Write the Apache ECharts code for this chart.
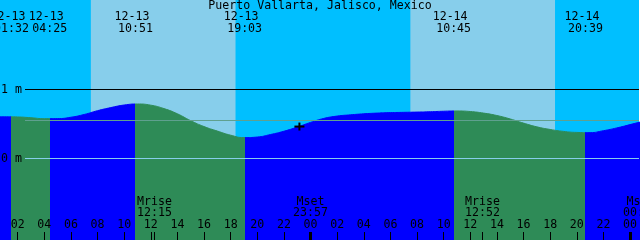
<!DOCTYPE html>
<html><head><meta charset="utf-8">
<script src="https://cdn.jsdelivr.net/npm/echarts@6/dist/echarts.min.js"></script>
<style>html,body{margin:0;padding:0;background:#fff}#c{width:640px;height:240px}</style>
</head><body><div id="c"></div>
<script>
// ---------- data ----------
const stationName = 'Puerto Vallarta, Jalisco, Mexico';
const viewStartHour = 0.675;   // hours since 12-13 00:00
const viewEndHour = 48.675;
const hourTicks = [2,4,6,8,10,12,14,16,18,20,22,24,26,28,30,32,34,36,38,40,42,44,46,48];
const midnightTicks = [24, 48];

// tide height (m) read hourly, hour since 12-13 00:00
const tideHours = [0,1,2,3,4,5,6,7,8,9,10,11,12,13,14,15,16,17,18,19,20,21,22,23,24,
  25,26,27,28,29,30,31,32,33,34,35,36,37,38,39,40,41,42,43,44,45,46,47,48,49];
const tideHeights = [0.598,0.601,0.599,0.588,0.574,0.575,0.595,0.635,0.690,0.735,0.772,0.787,0.770,0.720,0.645,
  0.545,0.460,0.395,0.335,0.300,0.308,0.345,0.392,0.452,0.520,
  0.578,0.612,0.630,0.645,0.655,0.662,0.666,0.670,0.675,0.682,0.686,0.678,0.655,0.620,0.570,
  0.510,0.456,0.418,0.390,0.375,0.372,0.400,0.440,0.488,0.538];

const tideDates = ['12-13','12-13','12-13','12-13','12-14','12-14'];
const tideTimes = ['01:32','04:25','10:51','19:03','10:45','20:39'];
const tideTypes = ['High','Low','High','Low','High','Low'];

const sunDates = ['12-13','12-14'];
const sunriseTimes = ['07:30','07:30'];
const sunsetTimes = ['18:22','18:22'];

const moonLabels = ['Mrise','Mset','Mrise','Mset'];
const moonDates = ['12-13','12-13','12-14','12-15'];
const moonTimes = ['12:15','23:57','12:52','00:45'];

const levelValues = [1, 0];
const levelLabels = ['1 m', '0 m'];
const meanLevel = 0.55;

const nowDate = '12-13', nowTime = '23:10', nowHeight = 0.46;

// ---------- styles ----------
const FONT = '"DejaVu Sans Mono", monospace';
const FS = 11.6;
const NIGHT = '#00BFFF', DAY = '#87CEEB', FLOOD = '#0000FF', EBB = '#2E8B57';
const levelColors = ['#000000', '#87CEEB'];
const MEAN_COLOR = '#5fa08f';

function toHour(date, time) {
  const day = parseInt(date.split('-')[1], 10) - 13;
  const [hh, mm] = time.split(':').map(Number);
  return day * 24 + hh + mm / 60;
}

const tideEvtHours = tideTimes.map((t, i) => toHour(tideDates[i], t));
const pieces = [];
let prev = -48;
tideEvtHours.forEach((h, i) => {
  pieces.push({ gte: prev, lt: h, color: tideTypes[i] === 'High' ? FLOOD : EBB });
  prev = h;
});
pieces.push({ gte: prev, lt: 120, color: tideTypes[tideTypes.length - 1] === 'High' ? EBB : FLOOD });

const dayBands = sunDates.map((d, i) => [toHour(d, sunriseTimes[i]), toHour(d, sunsetTimes[i])]);
const moonHours = moonTimes.map((t, i) => toHour(moonDates[i], t));
const font = FS + 'px ' + FONT;

function txt(x, y, s, align) {
  return { type: 'text', x: x, y: y, style: { text: s, font: font, fill: '#000', align: align || 'center', verticalAlign: 'middle' } };
}

const chart = echarts.init(document.getElementById('c'), null, { renderer: 'canvas' });
chart.setOption({
  animation: false,
  title: { text: stationName, left: 'center', top: 0, padding: 0,
    textStyle: { fontSize: FS, fontWeight: 'normal', fontFamily: FONT, color: '#000' } },
  grid: { show: true, backgroundColor: NIGHT, borderWidth: 0, left: 0, right: 0, top: 0, bottom: 0 },
  xAxis: [{
    type: 'value', min: viewStartHour, max: viewEndHour, position: 'bottom', z: 10,
    axisLine: { show: false, onZero: false }, splitLine: { show: false },
    axisTick: { show: true, inside: true, length: 8, customValues: hourTicks, lineStyle: { color: '#000', width: 1 } },
    axisLabel: { inside: true, margin: 9, customValues: hourTicks, color: '#000', fontFamily: FONT, fontSize: FS,
      formatter: v => String(Math.round(v) % 24).padStart(2, '0') }
  }, {
    type: 'value', min: viewStartHour, max: viewEndHour, position: 'bottom', offset: 0, z: 10,
    axisLine: { show: false, onZero: false }, splitLine: { show: false }, axisLabel: { show: false },
    axisTick: { show: true, inside: true, length: 8, customValues: midnightTicks, lineStyle: { color: '#000', width: 3 } }
  }],
  yAxis: { type: 'value', min: -1.184, max: 2.294, show: false, splitLine: { show: false } },
  visualMap: { type: 'piecewise', show: false, dimension: 0, seriesIndex: 1, pieces: pieces },
  series: [
    { type: 'custom', z: 0, data: dayBands, encode: { x: [0, 1] },
      renderItem: (params, api) => {
        const cs = params.coordSys;
        const x0 = api.coord([api.value(0), 0])[0];
        const x1 = api.coord([api.value(1), 0])[0];
        return { type: 'rect', shape: { x: x0, y: cs.y, width: x1 - x0, height: cs.height }, style: { fill: DAY } };
      } },
    { type: 'line', z: 1, smooth: true, symbol: 'none', data: tideHours.map((h, i) => [h, tideHeights[i]]),
      lineStyle: { width: 1 }, areaStyle: { opacity: 1, origin: 'start' } },
    { type: 'custom', z: 2, data: levelValues.map(v => [viewStartHour, v]),
      renderItem: (params, api) => {
        const cs = params.coordSys;
        const i = params.dataIndex;
        const y = Math.round(api.coord([api.value(0), api.value(1)])[1]) + 0.5;
        return { type: 'group', children: [
          { type: 'line', shape: { x1: cs.x + 25, y1: y, x2: cs.x + cs.width, y2: y }, style: { stroke: levelColors[i], lineWidth: 1 } },
          txt(cs.x + 1, y, levelLabels[i], 'left')
        ] };
      } },
    { type: 'custom', z: 2, data: [[viewStartHour, meanLevel]],
      renderItem: (params, api) => {
        const cs = params.coordSys;
        const y = Math.round(api.coord([api.value(0), api.value(1)])[1]) + 0.5;
        return { type: 'line', shape: { x1: cs.x + 25, y1: y, x2: cs.x + cs.width, y2: y }, style: { stroke: MEAN_COLOR, lineWidth: 1 } };
      } },
    { type: 'custom', z: 3, data: tideEvtHours.map(h => [h, 0]),
      renderItem: (params, api) => {
        const cs = params.coordSys;
        const i = params.dataIndex;
        const x = api.coord([api.value(0), 0])[0];
        return { type: 'group', children: [
          txt(x - 3.5, cs.y + 17, tideDates[i]),
          txt(x, cs.y + 29, tideTimes[i])
        ] };
      } },
    { type: 'custom', z: 3, data: moonHours.map(h => [h, 0]),
      renderItem: (params, api) => {
        const cs = params.coordSys;
        const i = params.dataIndex;
        const x = Math.round(api.coord([api.value(0), 0])[0]) + 0.5;
        const b = cs.y + cs.height;
        return { type: 'group', children: [
          { type: 'line', shape: { x1: x, y1: b - 8, x2: x, y2: b }, style: { stroke: '#000', lineWidth: 1 } },
          txt(x, b - 38.5, moonLabels[i]),
          txt(x, b - 26.7, moonTimes[i])
        ] };
      } },
    { type: 'custom', z: 4, data: [[toHour(nowDate, nowTime), nowHeight]],
      renderItem: (params, api) => {
        const p = api.coord([api.value(0), api.value(1)]);
        return { type: 'group', children: [
          { type: 'line', shape: { x1: p[0] - 5, y1: p[1], x2: p[0] + 5, y2: p[1] }, style: { stroke: '#000', lineWidth: 2 } },
          { type: 'line', shape: { x1: p[0], y1: p[1] - 4, x2: p[0], y2: p[1] + 4 }, style: { stroke: '#000', lineWidth: 2 } }
        ] };
      } }
  ]
});
</script>
</body></html>
